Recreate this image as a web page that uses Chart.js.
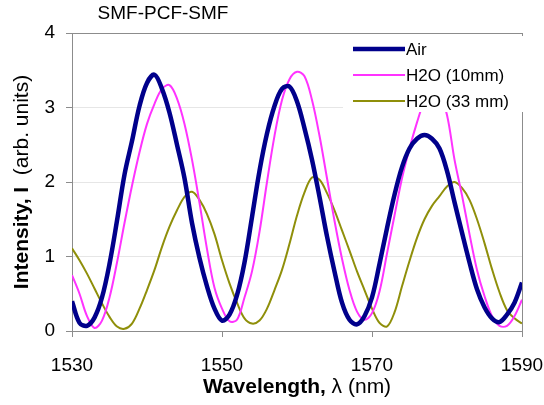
<!DOCTYPE html>
<html><head><meta charset="utf-8">
<script src="https://cdn.jsdelivr.net/npm/chart.js@4/dist/chart.umd.min.js"></script>
<style>html,body{margin:0;padding:0;background:#fff;overflow:hidden}</style>
</head><body>
<canvas id="c" width="544" height="405"></canvas>
<script>
const wavelengths = [1530,1531,1532,1533,1534,1535,1536,1537,1538,1539,1540,1541,1542,1543,1544,1545,1546,1547,1548,1549,1550,1551,1552,1553,1554,1555,1556,1557,1558,1559,1560,1561,1562,1563,1564,1565,1566,1567,1568,1569,1570,1571,1572,1573,1574,1575,1576,1577,1578,1579,1580,1581,1582,1583,1584,1585,1586,1587,1588,1589,1590];
const air = [0.40,0.11,0.07,0.18,0.45,0.90,1.48,2.10,2.55,3.02,3.33,3.44,3.25,2.93,2.50,2.05,1.45,0.98,0.60,0.30,0.14,0.22,0.48,0.92,1.53,2.15,2.65,3.02,3.25,3.28,3.08,2.72,2.30,1.80,1.27,0.80,0.38,0.15,0.09,0.20,0.45,0.90,1.38,1.83,2.20,2.45,2.58,2.63,2.58,2.45,2.15,1.73,1.32,0.92,0.56,0.32,0.17,0.12,0.22,0.38,0.65];
const h2o10mm = [0.75,0.50,0.20,0.04,0.14,0.45,0.92,1.45,1.95,2.40,2.78,3.05,3.25,3.30,3.12,2.78,2.30,1.72,1.10,0.58,0.30,0.13,0.15,0.45,0.80,1.33,2.00,2.62,3.10,3.38,3.48,3.42,3.10,2.62,2.05,1.48,0.97,0.55,0.26,0.15,0.24,0.53,1.04,1.55,2.05,2.45,2.80,3.10,3.28,3.18,2.90,2.30,1.82,1.30,0.82,0.47,0.20,0.07,0.07,0.20,0.42];
const h2o33mm = [1.11,0.95,0.77,0.57,0.37,0.19,0.06,0.03,0.10,0.30,0.55,0.82,1.13,1.40,1.62,1.80,1.87,1.76,1.57,1.30,0.95,0.64,0.38,0.17,0.10,0.14,0.30,0.55,0.82,1.17,1.55,1.86,2.06,2.03,1.85,1.62,1.35,1.08,0.80,0.55,0.30,0.11,0.06,0.25,0.60,0.94,1.25,1.50,1.68,1.81,1.94,2.00,1.92,1.76,1.50,1.18,0.83,0.52,0.28,0.17,0.10];
const seriesNames = ['Air','H2O (10mm)','H2O (33 mm)'];
const xTicks = [1530,1550,1570,1590];
const yTicks = [0,1,2,3,4];
const chartTitle = 'SMF-PCF-SMF';

const FONT = "'Liberation Sans', Arial, sans-serif";
const colors = ['#00008B','#FF33FF','#8F8F0A'];
const widths = [4.5,2,2];

function pts(vals){ return wavelengths.map((w,i)=>({x:w,y:vals[i]})); }

const overlay = {
  id:'overlay',
  afterDatasetsDraw(chart){
    const ctx = chart.ctx, a = chart.chartArea;
    ctx.save();
    const lx = a.left + 271, ly = a.top + 3;
    ctx.fillStyle = '#fff';
    ctx.fillRect(lx, ly, 190, 76);
    ctx.font = '17px ' + FONT;
    ctx.textBaseline = 'middle';
    ctx.textAlign = 'left';
    chart.data.datasets.forEach((ds,i)=>{
      const y = ly + 13 + i*26;
      ctx.strokeStyle = ds.borderColor;
      ctx.lineWidth = ds.borderWidth;
      ctx.beginPath(); ctx.moveTo(lx+10, y); ctx.lineTo(lx+62, y); ctx.stroke();
      ctx.fillStyle = '#000';
      ctx.fillText(ds.label, lx+63, y+1);
    });
    ctx.restore();
  },
  afterDraw(chart){
    const ctx = chart.ctx, a = chart.chartArea;
    ctx.save();
    ctx.fillStyle = '#000';
    ctx.textBaseline = 'middle';
    ctx.font = '19px ' + FONT;
    ctx.textAlign = 'center';
    ctx.fillText(chartTitle, 163, 14);
    const xb = 'Wavelength, ', xn = '\u03BB (nm)';
    ctx.font = 'bold 21px ' + FONT; const wb = ctx.measureText(xb).width;
    ctx.font = '21px ' + FONT; const wn = ctx.measureText(xn).width;
    let x0 = 297 - (wb+wn)/2 ;
    const yT = 387;
    ctx.textAlign = 'left';
    ctx.font = 'bold 21px ' + FONT; ctx.fillText(xb, x0, yT);
    ctx.font = '21px ' + FONT; ctx.fillText(xn, x0+wb, yT);
    const yb = 'Intensity, I  ', yn = '(arb. units)';
    ctx.font = 'bold 21px ' + FONT; const vb = ctx.measureText(yb).width;
    ctx.font = '21px ' + FONT; const vn = ctx.measureText(yn).width;
    ctx.translate(22, 182);
    ctx.rotate(-Math.PI/2);
    let s = -(vb+vn)/2;
    ctx.font = 'bold 21px ' + FONT; ctx.fillText(yb, s, 0);
    ctx.font = '21px ' + FONT; ctx.fillText(yn, s+vb, 0);
    ctx.restore();
  }
};

new Chart(document.getElementById('c'), {
  type:'line',
  data:{
    datasets:[
      {label:seriesNames[0], data:pts(air), borderColor:colors[0], borderWidth:widths[0]},
      {label:seriesNames[1], data:pts(h2o10mm), borderColor:colors[1], borderWidth:widths[1]},
      {label:seriesNames[2], data:pts(h2o33mm), borderColor:colors[2], borderWidth:widths[2]}
    ]
  },
  options:{
    responsive:false, animation:false, devicePixelRatio:1,
    layout:{padding:{top:33,right:22,left:0,bottom:0}},
    elements:{point:{radius:0}, line:{tension:0.35, borderJoinStyle:'round'}},
    plugins:{legend:{display:false}, tooltip:{enabled:false}},
    scales:{
      x:{type:'linear', min:1530, max:1590,
        afterBuildTicks:(s)=>{ s.ticks = xTicks.map(v=>({value:v})); },
        afterFit:(s)=>{ s.height = 74; s.paddingRight = 0; },
        ticks:{font:{family:FONT,size:19}, color:'#000', padding:17, maxRotation:0, callback:(v)=>String(v)},
        grid:{color:(c)=> (c.tick && c.tick.value===1590) ? '#8c8c8c' : 'rgba(0,0,0,0)', tickColor:'#8c8c8c', tickLength:6, lineWidth:1},
        border:{color:'#8c8c8c', width:1}
      },
      y:{min:0, max:4,
        afterBuildTicks:(s)=>{ s.ticks = yTicks.map(v=>({value:v})); },
        afterFit:(s)=>{ s.width = 72; },
        ticks:{font:{family:FONT,size:19}, color:'#000', padding:11},
        grid:{color:(c)=> (c.tick && (c.tick.value===4||c.tick.value===0)) ? '#8c8c8c' : '#e6e6e6', tickColor:'#8c8c8c', tickLength:6, lineWidth:1},
        border:{color:'#8c8c8c', width:1}
      }
    }
  },
  plugins:[overlay]
});
</script>
</body></html>
